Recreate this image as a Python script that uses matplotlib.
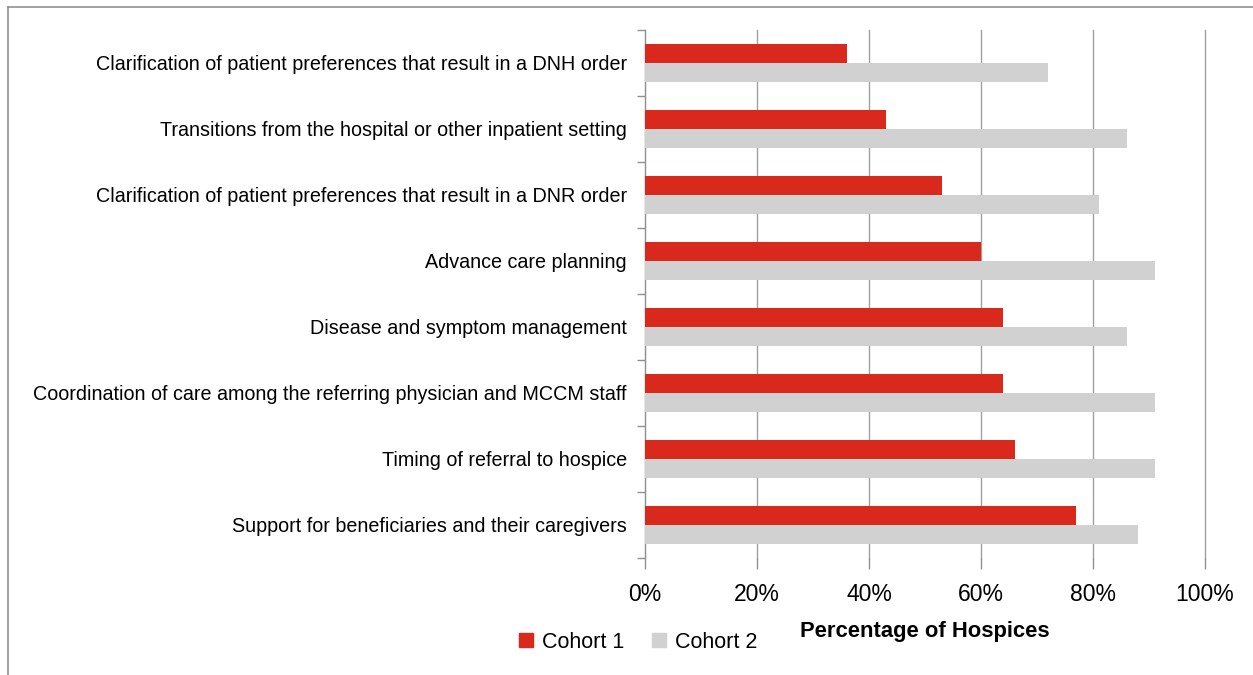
import numpy as np
import matplotlib.pyplot as plt
from matplotlib.patches import Patch
from matplotlib.lines import Line2D

categories = [
    "Clarification of patient preferences that result in a DNH order",
    "Transitions from the hospital or other inpatient setting",
    "Clarification of patient preferences that result in a DNR order",
    "Advance care planning",
    "Disease and symptom management",
    "Coordination of care among the referring physician and MCCM staff",
    "Timing of referral to hospice",
    "Support for beneficiaries and their caregivers",
]
cohort1 = [36, 43, 53, 60, 64, 64, 66, 77]
cohort2 = [72, 86, 81, 91, 86, 91, 91, 88]
xticks = [0, 20, 40, 60, 80, 100]

red = "#D9291C"
grey = "#D0D1D0"
fam = ["Liberation Sans Narrow", "Liberation Sans", "DejaVu Sans"]

fig = plt.figure(figsize=(12.53, 6.75), dpi=100)
ax = fig.add_axes([645 / 1253, 1 - 558 / 675, 560 / 1253, 528 / 675])

n = len(categories)
pos = np.arange(n)
h = 0.29
ax.barh(pos - h / 2, cohort1, height=h, color=red, label="Cohort 1", zorder=3)
ax.barh(pos + h / 2, cohort2, height=h, color=grey, label="Cohort 2", zorder=3)

ax.set_xlim(0, 100)
ax.set_ylim(n - 0.5, -0.5)
ax.set_xticks(xticks)
ax.set_xticklabels([f"{t}%" for t in xticks], family=fam, fontsize=16.5)
ax.set_yticks(pos)
ax.set_yticklabels(categories, family=fam, fontsize=14.2)
ax.set_yticks(np.arange(-0.5, n, 1), minor=True)
ax.tick_params(axis="y", which="major", length=0, pad=13)
ax.tick_params(axis="y", which="minor", length=6, width=1, color="#909090")
ax.tick_params(axis="x", length=8, width=1, color="#909090", pad=10)
for t in xticks:
    ax.axvline(t, color="#a0a0a0", linewidth=1, zorder=0, clip_on=False)

for s in ["top", "right", "bottom"]:
    ax.spines[s].set_visible(False)
ax.spines["left"].set_color("#909090")

fig.text(925 / 1253, 1 - 632 / 675, "Percentage of Hospices", ha="center", va="center",
         family=fam, fontsize=15.8, fontweight="bold")

handles = [Patch(color=red), Patch(color=grey)]
fig.legend(handles, ["Cohort 1", "Cohort 2"], loc="center left",
           bbox_to_anchor=(500 / 1253, 1 - 642 / 675), ncol=2, frameon=False,
           prop={"family": fam, "size": 15.5}, handlelength=0.65, handleheight=0.65,
           handletextpad=0.4, columnspacing=1.3)

# thin frame around the chart (top and left edges visible)
fig.add_artist(Line2D([8 / 1253, 1], [1 - 7 / 675] * 2, color="#909090", linewidth=1.2))
fig.add_artist(Line2D([8 / 1253] * 2, [0, 1 - 7 / 675], color="#909090", linewidth=1.2))

fig.savefig("out.png", dpi=100)
